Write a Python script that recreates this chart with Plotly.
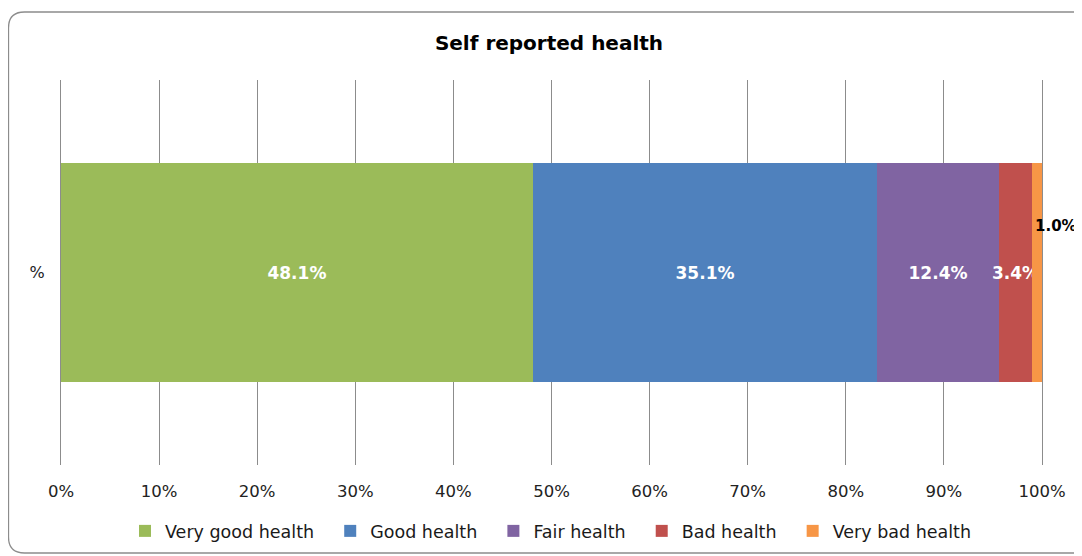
import plotly.graph_objects as go

categories = ["%"]
series_names = ["Very good health", "Good health", "Fair health", "Bad health", "Very bad health"]
series_values = [48.1, 35.1, 12.4, 3.4, 1.0]
series_colors = ["#9BBB59", "#4F81BD", "#8064A2", "#C0504D", "#F79646"]
tick_values = [0, 10, 20, 30, 40, 50, 60, 70, 80, 90, 100]
tick_labels = ["0%", "10%", "20%", "30%", "40%", "50%", "60%", "70%", "80%", "90%", "100%"]

# the page has an 8px body margin, so the figure is drawn 8px smaller
OFF = 8
W, H = 1082 - OFF, 556 - OFF
L, R, T, B = 61 - OFF, 40, 80 - OFF, 91

NBSP = "\u00a0"

fig = go.Figure()
for i, (name, val, col) in enumerate(zip(series_names, series_values, series_colors)):
    inside = i < len(series_names) - 1
    pad = NBSP * 2 if i < len(series_names) - 1 else ""
    fig.add_trace(go.Bar(
        y=categories, x=[val], name=name + pad, orientation="h",
        marker=dict(color=col, line=dict(width=0)),
        text=[f"{val:.1f}%"] if inside else None,
        textposition="inside" if inside else "none",
        insidetextanchor="middle",
        textangle=0,
        constraintext="none",
        textfont=dict(family="DejaVu Sans", size=17, color="white", weight="bold"),
        hoverinfo="skip",
    ))

# label for the last (thin) segment, placed above-right like the original
cum = sum(series_values)
fig.add_annotation(
    x=cum, y=categories[0], xref="x", yref="y",
    text=f"{series_values[-1]:.1f}%", showarrow=False,
    xanchor="left", yanchor="middle", xshift=-9, yshift=47,
    font=dict(family="DejaVu Sans", size=15, color="black", weight="bold"),
)

# rounded border of the chart area
pw, ph = W - L - R, H - T - B
def px(x): return (x - OFF - L) / pw
def py(y): return (H - B - (y - OFF)) / ph
x0, x1, y0, y1, r = 8.5, 1100, 12, 553, 16
path = (f"M {px(x0+r)},{py(y0)} L {px(x1-r)},{py(y0)} Q {px(x1)},{py(y0)} {px(x1)},{py(y0+r)} "
        f"L {px(x1)},{py(y1-r)} Q {px(x1)},{py(y1)} {px(x1-r)},{py(y1)} "
        f"L {px(x0+r)},{py(y1)} Q {px(x0)},{py(y1)} {px(x0)},{py(y1-r)} "
        f"L {px(x0)},{py(y0+r)} Q {px(x0)},{py(y0)} {px(x0+r)},{py(y0)} Z")
fig.add_shape(type="path", path=path, xref="paper", yref="paper",
              line=dict(color="#8C8C8C", width=1.3), layer="below")

fig.update_layout(
    width=W, height=H,
    margin=dict(l=L, r=R, t=T, b=B, autoexpand=False),
    paper_bgcolor="white", plot_bgcolor="white",
    barmode="stack", bargap=0.43,
    title=dict(text="<b>Self reported health</b>", x=(549 - OFF) / W, xanchor="center",
               y=1 - (43 - OFF) / H, yanchor="middle",
               font=dict(family="DejaVu Sans", size=20, color="black")),
    showlegend=True,
    legend=dict(orientation="h", x=px(551), xanchor="center", y=py(531), yanchor="middle",
                font=dict(family="DejaVu Sans", size=17.5, color="#1a1a1a"),
                itemwidth=30, traceorder="normal", bgcolor="rgba(0,0,0,0)"),
    xaxis=dict(range=[0, 100], tickvals=tick_values, ticktext=tick_labels,
               showgrid=True, gridcolor="#8C8C8C", gridwidth=1, zeroline=False,
               showline=False, ticks="", ticklabelstandoff=14,
               tickfont=dict(family="DejaVu Sans", size=16.5, color="#222")),
    yaxis=dict(range=[-0.5, 0.5], showgrid=False, zeroline=False,
               showline=True, mirror=True, linecolor="#8C8C8C", linewidth=1,
               ticks="", ticklabelstandoff=12,
               tickfont=dict(family="DejaVu Sans", size=16, color="#222")),
    font=dict(family="DejaVu Sans"),
)

fig.write_html("out.html")
